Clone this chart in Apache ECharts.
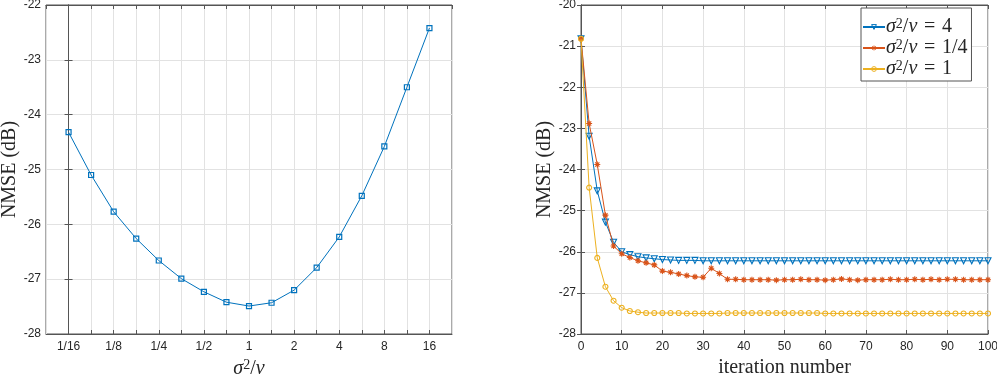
<!DOCTYPE html>
<html>
<head>
<meta charset="utf-8">
<script src="https://cdn.jsdelivr.net/npm/echarts@6/dist/echarts.min.js"></script>
<style>
  html, body { margin: 0; padding: 0; background: #fff; }
  #chart { width: 997px; height: 375px; }
</style>
</head>
<body>
<div id="chart"></div>
<script>
  // left panel: NMSE vs sigma^2/nu (half-octave steps)
  var ratioLabels = ['1/16', '', '1/8', '', '1/4', '', '1/2', '', '1', '', '2', '', '4', '', '8', '', '16'];
  var ratioNmse = [-24.32, -25.10, -25.77, -26.26, -26.66, -26.99, -27.23, -27.42, -27.49,
                   -27.43, -27.20, -26.79, -26.23, -25.48, -24.58, -23.50, -22.42];

  // right panel: NMSE vs iteration
  var iterations = [0, 2, 4, 6, 8, 10, 12, 14, 16, 18, 20, 22, 24, 26, 28, 30, 32, 34, 36, 38, 40,
                    42, 44, 46, 48, 50, 52, 54, 56, 58, 60, 62, 64, 66, 68, 70, 72, 74, 76, 78, 80,
                    82, 84, 86, 88, 90, 92, 94, 96, 98, 100];
  var nmse4 = [-20.82, -23.19, -24.52, -25.28, -25.77, -26.00, -26.07, -26.12, -26.15, -26.17, -26.19,
               -26.20, -26.21, -26.21, -26.21, -26.22, -26.22, -26.22, -26.22, -26.22, -26.22,
               -26.22, -26.22, -26.22, -26.22, -26.22, -26.22, -26.22, -26.22, -26.22, -26.22,
               -26.22, -26.22, -26.22, -26.22, -26.22, -26.22, -26.22, -26.22, -26.22, -26.22,
               -26.22, -26.22, -26.22, -26.22, -26.22, -26.22, -26.22, -26.22, -26.22, -26.22];
  var nmseQuarter = [-20.82, -22.88, -23.88, -25.11, -25.86, -26.05, -26.14, -26.22, -26.27, -26.32, -26.47,
                     -26.50, -26.54, -26.58, -26.61, -26.62, -26.40, -26.53, -26.67, -26.67, -26.68,
                     -26.68, -26.68, -26.68, -26.69, -26.68, -26.68, -26.67, -26.68, -26.68, -26.69,
                     -26.68, -26.66, -26.68, -26.69, -26.68, -26.68, -26.68, -26.67, -26.68, -26.68,
                     -26.67, -26.68, -26.67, -26.68, -26.67, -26.67, -26.68, -26.68, -26.68, -26.68];
  var nmse1 = [-20.82, -24.44, -26.15, -26.85, -27.19, -27.36, -27.44, -27.47, -27.49, -27.49, -27.49,
               -27.49, -27.49, -27.50, -27.50, -27.50, -27.50, -27.50, -27.49, -27.49, -27.49,
               -27.49, -27.49, -27.49, -27.49, -27.49, -27.49, -27.49, -27.49, -27.49, -27.50,
               -27.50, -27.50, -27.50, -27.50, -27.50, -27.50, -27.50, -27.50, -27.50, -27.50,
               -27.50, -27.50, -27.50, -27.50, -27.50, -27.50, -27.50, -27.50, -27.50, -27.50];

  var seriesNames = ['σ2/ν = 4', 'σ2/ν = 1/4', 'σ2/ν = 1'];
  var legendValues = ['4', '1/4', '1'];
  var colors = ['#0072BD', '#D95319', '#EDB120'];

  var tickFont = { color: '#262626', fontSize: 12, fontFamily: 'Liberation Sans' };
  var axisGray = '#555';
  var gridGray = '#e2e2e2';
  var serifRich = {
    i: { fontFamily: 'Liberation Serif', fontStyle: 'italic', fontSize: 20, color: '#262626', lineHeight: 22 },
    n: { fontFamily: 'Liberation Serif', fontSize: 20, color: '#262626', lineHeight: 22 },
    s: { fontFamily: 'Liberation Serif', fontSize: 14, color: '#262626', verticalAlign: 'top', lineHeight: 14 }
  };

  function boxAxis(gridIndex, pos, min, max, interval) {
    return {
      gridIndex: gridIndex, type: 'value', position: pos, min: min, max: max, interval: interval,
      axisLine: { show: true, lineStyle: { color: axisGray } },
      axisTick: { show: true, inside: true, length: 4, lineStyle: { color: axisGray } },
      axisLabel: { show: false },
      splitLine: { show: false }
    };
  }

  var pairs = function (xs, ys) { return ys.map(function (v, i) { return [xs[i], v]; }); };
  var ratioIdx = ratioNmse.map(function (v, i) { return i; });

  var markerSymbols = ['triangle', 'path://M5,0L5,10M0,5L10,5M1.5,1.5L8.5,8.5M8.5,1.5L1.5,8.5', 'circle'];
  var markerRotate = [180, 0, 0];
  var markerSize = [6, 6, 5];
  var iterData = [nmse4, nmseQuarter, nmse1];

  var nameStyle = { fontFamily: 'Liberation Serif', fontSize: 20, color: '#262626' };

  var chart = echarts.init(document.getElementById('chart'));
  var option = {
    animation: false,
    backgroundColor: '#fff',
    grid: [
      { left: 46, top: 5, width: 406, height: 329, outerBoundsMode: 'none', show: true, borderColor: axisGray, borderWidth: 1 },
      { left: 581, top: 5, width: 407, height: 329, outerBoundsMode: 'none', show: true, borderColor: axisGray, borderWidth: 1 }
    ],
    xAxis: [
      {
        gridIndex: 0, type: 'value', min: -1, max: 17, interval: 1,
        axisLine: { show: true, lineStyle: { color: axisGray } },
        axisTick: { show: true, inside: true, length: 4, lineStyle: { color: axisGray } },
        axisLabel: Object.assign({ margin: 7, showMinLabel: false, showMaxLabel: false,
          formatter: function (v) { return ratioLabels[v] || ''; } }, tickFont),
        splitLine: { show: true, lineStyle: { color: gridGray } },
        name: '{i|σ}{s|2}{n|/}{i|ν}', nameLocation: 'middle', nameGap: 19,
        nameTextStyle: { rich: serifRich }
      },
      boxAxis(0, 'top', -1, 17, 1),
      {
        gridIndex: 1, type: 'value', min: 0, max: 100, interval: 10,
        axisLine: { show: true, lineStyle: { color: axisGray } },
        axisTick: { show: true, inside: true, length: 4, lineStyle: { color: axisGray } },
        axisLabel: Object.assign({ margin: 7 }, tickFont),
        splitLine: { show: true, lineStyle: { color: gridGray } },
        name: 'iteration number', nameLocation: 'middle', nameGap: 20,
        nameTextStyle: nameStyle
      },
      boxAxis(1, 'top', 0, 100, 10)
    ],
    yAxis: [
      {
        gridIndex: 0, type: 'value', min: -28, max: -22, interval: 1,
        axisLine: { show: true, lineStyle: { color: axisGray } },
        axisTick: { show: true, inside: true, length: 4, lineStyle: { color: axisGray } },
        axisLabel: Object.assign({ margin: 5 }, tickFont),
        splitLine: { show: true, lineStyle: { color: gridGray } },
        name: 'NMSE (dB)', nameLocation: 'middle', nameGap: 25,
        nameTextStyle: nameStyle
      },
      boxAxis(0, 'right', -28, -22, 1),
      {
        gridIndex: 1, type: 'value', min: -28, max: -20, interval: 1,
        axisLine: { show: true, lineStyle: { color: axisGray } },
        axisTick: { show: true, inside: true, length: 4, lineStyle: { color: axisGray } },
        axisLabel: Object.assign({ margin: 5 }, tickFont),
        splitLine: { show: true, lineStyle: { color: gridGray } },
        name: 'NMSE (dB)', nameLocation: 'middle', nameGap: 25,
        nameTextStyle: nameStyle
      },
      boxAxis(1, 'right', -28, -20, 1)
    ],
    legend: {
      data: seriesNames.map(function (n, k) {
        return { name: n, itemStyle: { color: 'rgba(255,255,255,0)', borderColor: colors[k], borderWidth: 1 } };
      }),
      left: 861, top: 8, orient: 'vertical',
      itemWidth: 22, itemHeight: 6, itemGap: 1,
      padding: [9, 4, 2, 1],
      borderColor: axisGray, borderWidth: 1, borderRadius: 0,
      backgroundColor: '#fff',
      formatter: function (name) {
        return '{i|σ}{s|2}{n|/}{i|ν}{n|\u2004=\u2004' + legendValues[seriesNames.indexOf(name)] + '}';
      },
      textStyle: { padding: [0, 0, 0, -4], rich: {
        i: { fontFamily: 'Liberation Serif', fontStyle: 'italic', fontSize: 20, color: '#262626', lineHeight: 20 },
        n: { fontFamily: 'Liberation Serif', fontSize: 20, color: '#262626', lineHeight: 20 },
        s: { fontFamily: 'Liberation Serif', fontSize: 14, color: '#262626', verticalAlign: 'top', lineHeight: 13 }
      } }
    },
    series: [
      {
        name: 'ratio', type: 'line', xAxisIndex: 0, yAxisIndex: 0,
        data: pairs(ratioIdx, ratioNmse),
        symbol: 'rect', symbolSize: 5,
        itemStyle: { color: 'rgba(255,255,255,0)', borderColor: colors[0], borderWidth: 1.2 },
        lineStyle: { color: colors[0], width: 1 }
      }
    ].concat(iterData.map(function (d, k) {
      return {
        name: seriesNames[k], type: 'line', xAxisIndex: 2, yAxisIndex: 2,
        data: pairs(iterations, d),
        symbol: markerSymbols[k], symbolSize: markerSize[k], symbolRotate: markerRotate[k],
        itemStyle: { color: 'rgba(255,255,255,0)', borderColor: colors[k], borderWidth: 1.1 },
        lineStyle: { color: colors[k], width: 1 },
        z: 3 + k
      };
    }))
  };
  chart.setOption(option);
</script>
</body>
</html>
